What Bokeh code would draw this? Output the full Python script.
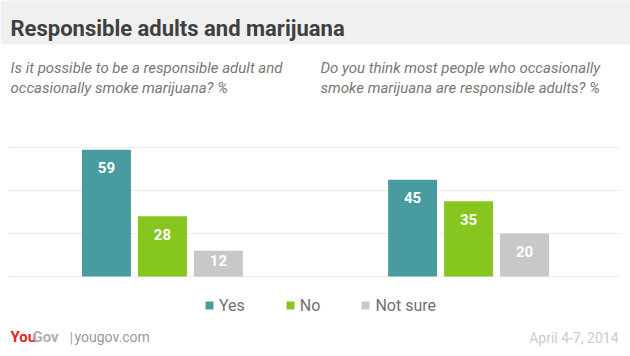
from bokeh.plotting import figure
from bokeh.models import (FactorRange, Range1d, Label, BoxAnnotation, Legend,
                          LegendItem, ColumnDataSource)
from bokeh.embed import file_html
from bokeh.resources import INLINE

# ---------------- data ----------------
chart_title = "Responsible adults and marijuana"
questions = ["q1", "q2"]
q1_text = ["Is it possible to be a responsible adult and",
           "occasionally smoke marijuana? %"]
q2_text = ["Do you think most people who occasionally",
           "smoke marijuana are responsible adults? %"]
series = ["Yes", "No", "Not sure"]
q1_values = [59, 28, 12]
q2_values = [45, 35, 20]
grid_values = [0, 20, 40, 60]
brand_a = "You"
brand_b = "Gov"
site = "yougov.com"
date_note = "April 4-7, 2014"

# ---------------- style / layout ----------------
colors = ["#489b9e", "#86c61e", "#c8c8c8"]
W, H = 630, 356
PX_PER_UNIT = 2.15
BASE_PX = 276          # baseline, pixels from top
FONT = "Roboto"

factors = [(q, s) for q in questions for s in series]
vals = q1_values + q2_values
labels = [str(v) for v in vals]
offsets = [min(18.0, v * PX_PER_UNIT / 2 - 3) for v in vals]

source = ColumnDataSource(dict(x=factors, top=vals, color=colors * 2,
                               label=labels, off=offsets))

x_range = FactorRange(*factors, group_padding=2.47, factor_padding=0.0,
                      range_padding=1.393, range_padding_units="absolute")
y_range = Range1d(-(H - BASE_PX) / PX_PER_UNIT, BASE_PX / PX_PER_UNIT)

p = figure(width=W, height=H, x_range=x_range, y_range=y_range,
           output_backend="svg", toolbar_location=None,
           x_axis_location=None, y_axis_location=None,
           min_border=0, outline_line_color=None,
           background_fill_color="white", border_fill_color="white")
p.grid.visible = False

# title bar
p.add_layout(BoxAnnotation(bottom=(BASE_PX - 44) / PX_PER_UNIT,
                           top=BASE_PX / PX_PER_UNIT + 10,
                           fill_color="#f0f0f0", fill_alpha=1.0,
                           line_color=None, level="underlay"))

# grid lines (limited horizontally by white masks at both ends)
p.hspan(y=grid_values, line_color="#ececec", line_width=1, level="underlay")
grid_lo = min(grid_values) - 2
grid_hi = max(grid_values) + 2
for left, right in [(0, 8), (620, W)]:
    p.add_layout(BoxAnnotation(left=left, right=right, left_units="screen",
                               right_units="screen", bottom=grid_lo,
                               top=grid_hi, fill_color="white",
                               fill_alpha=1.0, line_color=None,
                               level="annotation"))

bars = p.vbar(x="x", top="top", width=0.875, bottom=0, fill_color="color",
              line_color=None, source=source)

p.text(x="x", y="top", text="label", y_offset="off", source=source,
       text_align="center", text_baseline="middle", text_color="white",
       text_font={"value": FONT}, text_font_style="bold",
       text_font_size="15px")

# legend
items = [LegendItem(label=s, renderers=[bars], index=i)
         for i, s in enumerate(series)]
legend = Legend(items=items, orientation="horizontal", location=(204, 41),
                glyph_width=10, glyph_height=10, label_standoff=5,
                spacing=40, padding=0, margin=0, border_line_color=None,
                background_fill_alpha=0, label_height=20,
                label_text_font_size="16px", label_text_color="#707070",
                label_text_font=FONT)
p.add_layout(legend)


def lab(text, x, y_from_top, size, color, style="normal", align="left"):
    p.add_layout(Label(x=x, y=H - y_from_top, x_units="screen",
                       y_units="screen", text=text, text_font=FONT,
                       text_font_size=size, text_color=color,
                       text_font_style=style, text_align=align,
                       text_baseline="alphabetic"))


lab(chart_title, 10, 28, "22px", "#404040", "bold")
for i, line in enumerate(q1_text):
    lab(line, 10, 67 + 20 * i, "15px", "#777777", "italic")
for i, line in enumerate(q2_text):
    lab(line, 320, 67 + 20 * i, "15px", "#777777", "italic")

lab(brand_a, 10, 336, "15px", "#e0261b", "bold")
lab(brand_b, 32, 336, "15px", "#b0b0b0", "bold")
lab("|", 69, 337, "15px", "#aaaaaa")
lab(site, 74, 336, "14px", "#999999")
lab(date_note, 618, 337, "14px", "#cccccc", align="right")

open("out.html", "w").write(file_html(p, INLINE))
